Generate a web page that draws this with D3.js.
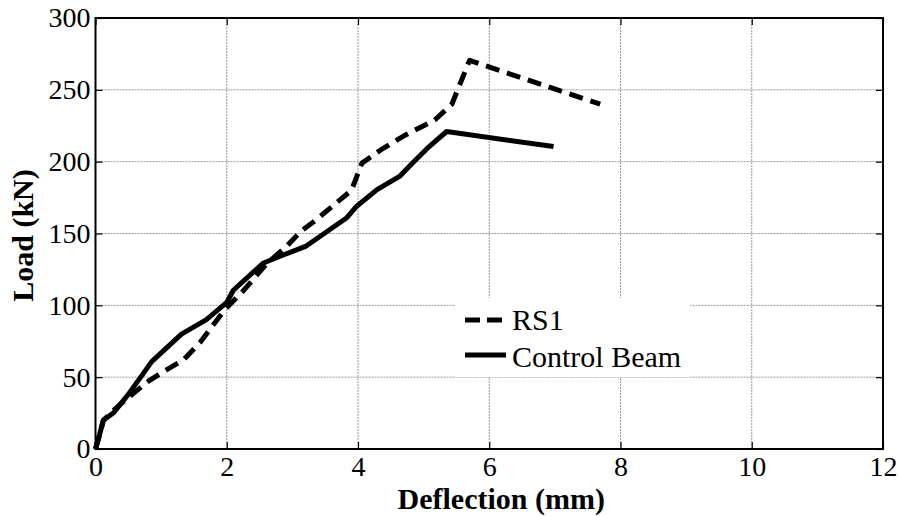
<!DOCTYPE html>
<html>
<head>
<meta charset="utf-8">
<script src="https://cdn.jsdelivr.net/npm/d3@7"></script>
<style>
  html, body { margin: 0; padding: 0; background: #fff; }
  svg { display: block; }
</style>
</head>
<body>
<svg id="chart" width="900" height="516"></svg>
<script>
// ---- data ----
const seriesNames = ["RS1", "Control Beam"];
const rs1Deflection = [0, 0.05, 0.12, 0.3, 0.475, 0.83, 1.08, 1.34, 1.59, 1.97, 2.25, 2.61, 2.91, 3.14, 3.32, 3.9, 4.06, 4.34, 4.7, 5.0, 5.17, 5.43, 5.7, 7.69];
const rs1Load       = [0, 8, 20, 28, 35, 48, 55, 62, 74, 97, 110, 129, 141, 152, 158, 180, 199, 208, 218, 225, 229, 240, 270.5, 240];
const ctrlDeflection = [0, 0.05, 0.12, 0.27, 0.5, 0.86, 1.31, 1.69, 2.0, 2.1, 2.56, 2.86, 3.2, 3.83, 3.98, 4.29, 4.64, 4.85, 5.05, 5.35, 6.98];
const ctrlLoad       = [0, 8, 20, 25, 38, 61, 80, 90, 102, 110.5, 129.5, 135, 141, 161, 169, 180.5, 190, 200, 209, 221, 210.5];
const xTicks = [0, 2, 4, 6, 8, 10, 12];
const yTicks = [0, 50, 100, 150, 200, 250, 300];
const xTitle = "Deflection (mm)";
const yTitle = "Load (kN)";

const FONT = '"Liberation Serif", "Times New Roman", Tinos, "DejaVu Serif", serif';

// ---- layout ----
const svg = d3.select("#chart");
const L = 95.5, R = 883, T = 18, B = 449;
const x = d3.scaleLinear().domain([0, 12]).range([L, R]);
const y = d3.scaleLinear().domain([0, 300]).range([B, T]);

// grid
const grid = svg.append("g");
grid.selectAll("line.vx").data(xTicks.slice(1, -1)).join("line")
  .attr("x1", d => x(d)).attr("x2", d => x(d)).attr("y1", T).attr("y2", B)
  .attr("stroke", "#9a9a9a").attr("stroke-width", 1).attr("stroke-dasharray", "2,1");
grid.selectAll("line.hy").data(yTicks.slice(1, -1)).join("line")
  .attr("x1", L).attr("x2", R).attr("y1", d => y(d)).attr("y2", d => y(d))
  .attr("stroke", "#9a9a9a").attr("stroke-width", 1).attr("stroke-dasharray", "2,1");

// axes (ticks inside)
const tickLen = 7;
const xAxisB = d3.axisBottom(x).tickValues(xTicks).tickSize(-tickLen).tickPadding(7).tickFormat(d3.format("d"));
const xAxisT = d3.axisTop(x).tickValues(xTicks).tickSize(-tickLen).tickFormat("");
const yAxisL = d3.axisLeft(y).tickValues(yTicks).tickSize(-tickLen).tickPadding(5).tickFormat(d3.format("d"));
const yAxisR = d3.axisRight(y).tickValues(yTicks).tickSize(-tickLen).tickFormat("");

function styleAxis(g) {
  g.attr("font-family", null);
  g.select(".domain").remove();
  g.selectAll(".tick line").attr("stroke", "#000").attr("stroke-width", 1.2);
  g.selectAll(".tick text").style("font-family", FONT).style("font-size", "28px").attr("fill", "#000");
}
svg.append("g").attr("transform", `translate(0,${B})`).call(xAxisB).call(styleAxis)
  .selectAll(".tick text").attr("dy", "0.71em");
svg.append("g").attr("transform", `translate(0,${T})`).call(xAxisT).call(styleAxis);
svg.append("g").attr("transform", `translate(${L},0)`).call(yAxisL).call(styleAxis);
svg.append("g").attr("transform", `translate(${R},0)`).call(yAxisR).call(styleAxis);

// frame
svg.append("rect").attr("x", L).attr("y", T).attr("width", R - L).attr("height", B - T)
  .attr("fill", "none").attr("stroke", "#000").attr("stroke-width", 2);

// lines
const line = d3.line().x(d => x(d[0])).y(d => y(d[1]));
const rs1 = rs1Deflection.map((d, i) => [d, rs1Load[i]]);
const ctrl = ctrlDeflection.map((d, i) => [d, ctrlLoad[i]]);
svg.append("path").datum(ctrl).attr("d", line)
  .attr("fill", "none").attr("stroke", "#000").attr("stroke-width", 5).attr("stroke-linejoin", "round");
svg.append("path").datum(rs1).attr("d", line)
  .attr("fill", "none").attr("stroke", "#000").attr("stroke-width", 5).attr("stroke-dasharray", "14,8").attr("stroke-linejoin", "round");

// legend
const lg = svg.append("g");
lg.append("rect").attr("x", 455).attr("y", 298).attr("width", 235).attr("height", 79).attr("fill", "#fff");
const items = [
  { name: seriesNames[0], dash: "15,7", ly: 320, ty: 330 },
  { name: seriesNames[1], dash: null, ly: 355, ty: 367 }
];
items.forEach(it => {
  lg.append("line").attr("x1", 465).attr("x2", 506).attr("y1", it.ly).attr("y2", it.ly)
    .attr("stroke", "#000").attr("stroke-width", 5).attr("stroke-dasharray", it.dash);
  lg.append("text").attr("x", 512).attr("y", it.ty).style("font-family", FONT).style("font-size", "30px").text(it.name);
});

// titles
svg.append("text").attr("x", (L + R) / 2 + 12).attr("y", 509).attr("text-anchor", "middle")
  .style("font-family", FONT).style("font-weight", "bold").style("font-size", "30px").text(xTitle);
svg.append("text").attr("transform", `translate(33,${(T + B) / 2 + 2}) rotate(-90)`).attr("text-anchor", "middle")
  .style("font-family", FONT).style("font-weight", "bold").style("font-size", "30px").text(yTitle);
</script>
</body>
</html>
